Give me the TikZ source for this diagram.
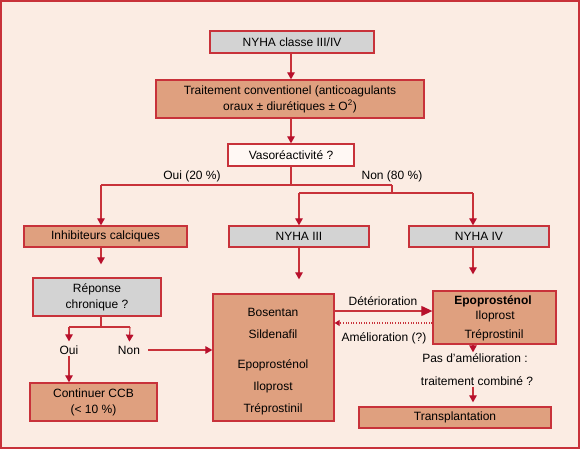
\documentclass[tikz,border=0pt]{standalone}
\usepackage{fontspec}
\setmainfont{Liberation Sans}
\usetikzlibrary{arrows.meta}
\definecolor{bgc}{HTML}{FBECE3}
\definecolor{redline}{HTML}{C8323A}
\definecolor{tipred}{HTML}{B8102C}
\definecolor{salmon}{HTML}{DFA07F}
\definecolor{greybox}{HTML}{D3D3D3}
\definecolor{whitebox}{HTML}{FFF8F4}
\begin{document}
\begin{tikzpicture}[x=1pt,y=-1pt,
  font=\fontsize{12}{16}\selectfont,
  box/.style={draw=redline, line width=1.3pt, inner sep=0pt, align=center},
  greyb/.style={box, fill=greybox},
  salb/.style={box, fill=salmon},
  whiteb/.style={box, fill=whitebox},
  lbl/.style={inner sep=1pt, align=center},
  conn/.style={draw=redline, line width=1.1pt},
  arr/.style={conn, -{Triangle[length=7pt,width=7.5pt,color=tipred]}},
  bigarr/.style={conn, -{Triangle[length=11pt,width=10pt,color=tipred]}},
  dotarr/.style={draw=redline, line width=1.1pt, dash pattern=on 1pt off 1.6pt, -{Triangle[length=5pt,width=6pt,color=tipred]}}
]
\useasboundingbox (0,0) rectangle (581,450);
\draw[redline, line width=2pt, fill=bgc] (1,1) rectangle (579,448);

% boxes
\node[greyb, minimum width=164pt, minimum height=22pt] (nyha) at (292,42) {NYHA classe III/IV};
\node[salb, minimum width=268pt, minimum height=38pt] (trait) at (290,99) {Traitement conventionel (anticoagulants\\oraux ± diurétiques ± O\textsuperscript{2})};
\node[whiteb, minimum width=126pt, minimum height=22pt] (vaso) at (291,155) {Vasoréactivité ?};
\node[salb, minimum width=163pt, minimum height=21pt] (inhib) at (105.5,236.5) {Inhibiteurs calciques};
\node[greyb, minimum width=140pt, minimum height=21pt] (nyha3) at (299,236.5) {NYHA III};
\node[greyb, minimum width=140pt, minimum height=21pt] (nyha4) at (479,236.5) {NYHA IV};
\node[greyb, minimum width=128pt, minimum height=38pt] (rep) at (97,297) {Réponse\\chronique ?};
\node[salb, minimum width=127pt, minimum height=38pt] (cont) at (93.5,402) {Continuer CCB\\(< 10 \%)};
\node[salb, minimum width=121pt, minimum height=127pt] (big) at (273.5,357.5) {};
\node[salb, minimum width=123pt, minimum height=53pt] (epo) at (494.5,317.5) {};
\node[salb, minimum width=192pt, minimum height=21pt] (trans) at (455,417.5) {Transplantation};

% texts inside big box
\node[lbl] (b1) at (273,312) {Bosentan};
\node[lbl] (b2) at (273,334) {Sildenafil};
\node[lbl] (b3) at (273,365) {Epoprosténol};
\node[lbl] (b4) at (273,387) {Iloprost};
\node[lbl] (b5) at (273,409) {Tréprostinil};
% texts inside epo box
\node[lbl] (e1) at (493,301) {\bfseries Epoprosténol};
\node[lbl] (e2) at (495,316) {Iloprost};
\node[lbl] (e3) at (494,335) {Tréprostinil};

% labels
\node[lbl] (oui20) at (192,176) {Oui (20 \%)};
\node[lbl] (non80) at (392,176) {Non (80 \%)};
\node[lbl] (oui) at (69,350) {Oui};
\node[lbl] (non) at (129,350) {Non};
\node[lbl] (det) at (383,301) {Détérioration};
\node[lbl] (amel) at (384,338) {Amélioration (?)};
\node[lbl] (pas) at (475,358) {Pas d’amélioration :};
\node[lbl] (comb) at (477,381) {traitement combiné ?};

% junction coordinates
\coordinate (j0) at (291,0);
\coordinate (j1) at (291,185);
\coordinate (jl) at (101,185);
\coordinate (jr) at (392,185);
\coordinate (jr2) at (392,193);
\coordinate (j3) at (299,193);
\coordinate (j4) at (473,193);
\coordinate (r1) at (101,327);
\coordinate (r0) at (69,327);
\coordinate (r2) at (130,327);
\coordinate (dy) at (0,311);
\coordinate (ay) at (0,323);

% connectors
\draw[arr] (nyha.south -| j0) -- (trait.north -| j0);
\draw[arr] (trait.south -| j0) -- (vaso.north -| j0);
\draw[conn] (vaso.south -| j0) -- (j1);
\draw[conn] (jl) -- (jr);
\draw[arr] (jl) -- (jl |- inhib.north);
\draw[conn] (jr) -- (jr2);
\draw[conn] (j3) -- (j4);
\draw[arr] (j3) -- (j3 |- nyha3.north);
\draw[arr] (j4) -- (j4 |- nyha4.north);

\draw[arr, shorten >=13pt] (inhib.south -| jl) -- (rep.north -| jl);
\draw[conn] (rep.south -| r1) -- (r1);
\draw[conn] (r0) -- (r2);
\draw[arr, shorten >=3pt] (r0) -- (oui);
\draw[arr, shorten >=3pt] (r2) -- (non);
\draw[arr] (oui) -- (oui |- cont.north);
\draw[arr, shorten <=7pt] (non.east) -- (big.west |- non.east);

\draw[arr, shorten >=14pt] (nyha3.south) -- (nyha3.south |- big.north);
\draw[arr, shorten >=16pt] (nyha4.south -| j4) -- (epo.north -| j4);

\draw[bigarr] (big.east |- dy) -- (epo.west |- dy);
\draw[dotarr] (epo.west |- ay) -- (big.east |- ay);

\draw[arr] (epo.south -| j4) -- (pas.north -| j4);
\draw[arr, shorten >=4pt] (comb.south -| j4) -- (trans.north -| j4);
\end{tikzpicture}
\end{document}
